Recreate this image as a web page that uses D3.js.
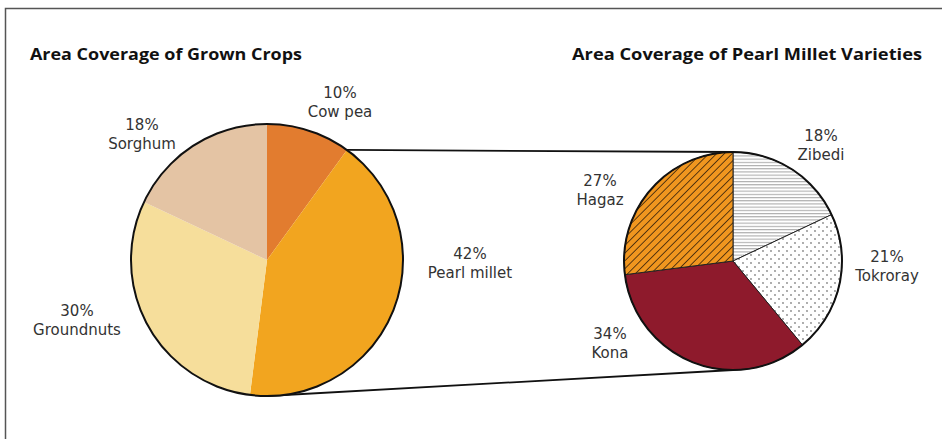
<!DOCTYPE html>
<html><head><meta charset="utf-8">
<script src="https://cdn.jsdelivr.net/npm/d3@7"></script>
<style>body{margin:0;background:#fff}svg{display:block}</style>
</head><body>
<svg id="c" width="942" height="439"></svg>
<script>
const cropNames = ["Cow pea", "Pearl millet", "Groundnuts", "Sorghum"];
const cropValues = [10, 42, 30, 18];
const cropColors = ["#e27c2f", "#f2a51f", "#f6de9b", "#e4c4a4"];
const varietyNames = ["Zibedi", "Tokroray", "Kona", "Hagaz"];
const varietyValues = [18, 21, 34, 27];
const varietyFills = ["url(#hlines)", "url(#dots)", "#8e1a2c", "url(#hatch)"];
const titles = ["Area Coverage of Grown Crops", "Area Coverage of Pearl Millet Varieties"];

const svg = d3.select("#c");
const defs = svg.append("defs");
const h = defs.append("pattern").attr("id","hlines").attr("patternUnits","userSpaceOnUse").attr("width",6).attr("height",3.2);
h.append("rect").attr("width",6).attr("height",3.2).attr("fill","#fff");
h.append("line").attr("x1",0).attr("x2",6).attr("y1",0.6).attr("y2",0.6).attr("stroke","#999").attr("stroke-width",0.9);
const d = defs.append("pattern").attr("id","dots").attr("patternUnits","userSpaceOnUse").attr("width",8).attr("height",8);
d.append("rect").attr("width",8).attr("height",8).attr("fill","#fff");
d.append("circle").attr("cx",2).attr("cy",2).attr("r",0.9).attr("fill","#888");
d.append("circle").attr("cx",6).attr("cy",6).attr("r",0.9).attr("fill","#888");
const ht = defs.append("pattern").attr("id","hatch").attr("patternUnits","userSpaceOnUse").attr("width",5.5).attr("height",5.5).attr("patternTransform","rotate(45)");
ht.append("rect").attr("width",5.5).attr("height",5.5).attr("fill","#f0961f");
ht.append("line").attr("x1",0).attr("x2",0).attr("y1",0).attr("y2",5.5).attr("stroke","#2a1a0a").attr("stroke-width",1.5);

// frame
svg.append("path").attr("d","M5.5,445 V8.5 H950").attr("fill","none").attr("stroke","#555").attr("stroke-width",1.5);

const pie = d3.pie().sort(null).value(v => v);
const L = {cx: 267, cy: 260, r: 136};
const R = {cx: 733, cy: 261, r: 109};

const cropArcs = pie(cropValues);
const pm = cropArcs[1];
const pt = (c, a, r) => [c.cx + r * Math.sin(a), c.cy - r * Math.cos(a)];
const a0 = pt(L, pm.startAngle, L.r), b0 = pt(R, 0, R.r);
const a1 = pt(L, Math.PI, L.r), b1 = pt(R, Math.PI, R.r);
svg.append("line").attr("x1",a0[0]).attr("y1",a0[1]).attr("x2",b0[0]).attr("y2",b0[1]).attr("stroke","#111").attr("stroke-width",1.8);
svg.append("line").attr("x1",a1[0]).attr("y1",a1[1]).attr("x2",b1[0]).attr("y2",b1[1]).attr("stroke","#111").attr("stroke-width",1.8);

const arcL = d3.arc().innerRadius(0).outerRadius(L.r);
const gL = svg.append("g").attr("transform",`translate(${L.cx},${L.cy})`);
gL.selectAll("path").data(cropArcs).join("path").attr("d",arcL).attr("fill",(p,i)=>cropColors[i]);
gL.append("circle").attr("r",L.r).attr("fill","none").attr("stroke","#111").attr("stroke-width",2);

const arcR = d3.arc().innerRadius(0).outerRadius(R.r);
const gR = svg.append("g").attr("transform",`translate(${R.cx},${R.cy})`);
gR.selectAll("path").data(pie(varietyValues)).join("path").attr("d",arcR).attr("fill",(p,i)=>varietyFills[i])
  .attr("stroke","#222").attr("stroke-width",1);
gR.append("circle").attr("r",R.r).attr("fill","none").attr("stroke","#111").attr("stroke-width",2);

// labels
const cropLabelPos = [[340,98],[470,259],[77,316],[142,130]];
const varLabelPos = [[821,141],[887,262],[610,339],[600,186]];
function labels(names, vals, pos) {
  names.forEach((n,i) => {
    const t = svg.append("text").attr("text-anchor","middle").attr("font-family","DejaVu Sans, sans-serif")
      .attr("font-size",15).attr("fill","#333");
    t.append("tspan").attr("x",pos[i][0]).attr("y",pos[i][1]).text(vals[i] + "%");
    t.append("tspan").attr("x",pos[i][0]).attr("y",pos[i][1]+19).text(n);
  });
}
labels(cropNames, cropValues, cropLabelPos);
labels(varietyNames, varietyValues, varLabelPos);

// titles
[[30,272],[572,350]].forEach((p,i) => {
  svg.append("text").attr("x",p[0]).attr("y",60).attr("font-family","Open Sans, sans-serif").attr("font-weight",700)
    .attr("font-size",16.5).attr("fill","#111").attr("textLength",p[1]).attr("lengthAdjust","spacingAndGlyphs").text(titles[i]);
});
</script>
</body></html>
